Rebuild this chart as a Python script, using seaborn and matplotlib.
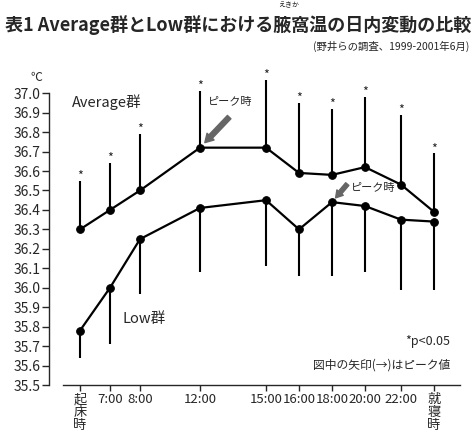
import pandas as pd
import numpy as np
import matplotlib.pyplot as plt
import seaborn as sns

sns.set_style("ticks")
plt.rcParams['font.family'] = ['Noto Sans CJK JP', 'DejaVu Sans']

# time points (x position follows the original's uneven spacing)
labels = ["起\n床\n時", "7:00", "8:00", "12:00", "15:00", "16:00", "18:00", "20:00", "22:00", "就\n寝\n時"]
x_pos = [0, 1, 2, 4, 6.2, 7.3, 8.4, 9.5, 10.7, 11.8]

avg_vals = [36.30, 36.40, 36.50, 36.72, 36.72, 36.59, 36.58, 36.62, 36.53, 36.39]
avg_upper = [36.55, 36.64, 36.79, 37.01, 37.07, 36.95, 36.92, 36.98, 36.89, 36.69]

low_vals = [35.78, 36.00, 36.25, 36.41, 36.45, 36.30, 36.44, 36.42, 36.35, 36.34]
low_lower = [35.64, 35.71, 35.97, 36.08, 36.11, 36.06, 36.06, 36.08, 35.99, 35.99]

avg_peak = 3   # 12:00
low_peak = 6   # 18:00

df = pd.DataFrame({
    "x": x_pos * 2,
    "temp": avg_vals + low_vals,
    "group": ["Average"] * len(x_pos) + ["Low"] * len(x_pos),
})

fig = plt.figure(figsize=(4.76, 4.38), dpi=100)
ax = fig.add_axes([0.1324, 0.121, 0.834, 0.708])

##error bars (one side only)
ax.vlines(x_pos, avg_vals, avg_upper, color="black", lw=1.5, zorder=2)
ax.vlines(x_pos, low_lower, low_vals, color="black", lw=1.5, zorder=2)
for xi, yi in zip(x_pos, avg_upper):
    ax.annotate("*", (xi, yi), xytext=(0, -1.5), textcoords="offset points",
                ha="center", va="bottom", fontsize=9, annotation_clip=False)

##lines
sns.lineplot(data=df, x="x", y="temp", hue="group", palette=["black", "black"],
             marker="o", markersize=5.5, markeredgecolor="black", lw=1.6,
             legend=False, ax=ax, zorder=3)

ax.set_xlim(-0.567, 12.667)
ax.set_ylim(35.5, 37.094)
ax.set_xticks(x_pos)
ax.set_xticklabels(labels, fontsize=9.5, linespacing=1.0)
ax.set_yticks(np.arange(35.5, 37.01, 0.1))
ax.set_yticklabels([f"{v:.1f}" for v in np.arange(35.5, 37.01, 0.1)], fontsize=10.5)
ax.tick_params(axis="y", length=5, width=1, pad=1)
ax.tick_params(axis="x", length=4, width=1, pad=2)
ax.set_xlabel("")
ax.set_ylabel("")

for s in ["top", "right"]:
    ax.spines[s].set_visible(False)
ax.spines["left"].set_position(("outward", 10))
ax.spines["left"].set_bounds(35.5, 37.0)
ax.spines["left"].set_linewidth(1)
ax.spines["bottom"].set_linewidth(1)

##group labels
ax.text(0.023, 0.913, "Average群", transform=ax.transAxes, fontsize=10.5, va="center")
ax.text(0.149, 0.213, "Low群", transform=ax.transAxes, fontsize=10.5, va="center")

##peak arrows
ax.annotate("", xy=(x_pos[avg_peak], avg_vals[avg_peak]), xytext=(21, 22),
            textcoords="offset points",
            arrowprops=dict(arrowstyle="simple,head_length=0.6,head_width=0.7,tail_width=0.35",
                            color="#666666", shrinkA=0, shrinkB=5))
ax.annotate("ピーク時", (x_pos[avg_peak], avg_vals[avg_peak]), xytext=(22, 33),
            textcoords="offset points", ha="center", va="center", fontsize=8)
ax.annotate("", xy=(x_pos[low_peak], low_vals[low_peak]), xytext=(11, 13),
            textcoords="offset points",
            arrowprops=dict(arrowstyle="simple,head_length=0.5,head_width=0.6,tail_width=0.3",
                            color="#666666", shrinkA=0, shrinkB=4))
ax.annotate("ピーク時", (x_pos[low_peak], low_vals[low_peak]), xytext=(30, 10),
            textcoords="offset points", ha="center", va="center", fontsize=8)

##notes
ax.text(0.975, 0.139, "*p<0.05", transform=ax.transAxes, fontsize=9, ha="right", va="center")
ax.text(0.975, 0.065, "図中の矢印(→)はピーク値", transform=ax.transAxes, fontsize=8.5,
        ha="right", va="center")

##titles
fig.text(0.077, 0.824, "℃", fontsize=8.5, ha="center", va="center")
fig.text(0.01, 0.943, "表1 Average群とLow群における腋窩温の日内変動の比較",
         fontsize=13, fontweight="bold", ha="left", va="center")
fig.text(0.607, 0.988, "えきか", fontsize=5, ha="center", va="center")
fig.text(0.987, 0.893, "(野井らの調査、1999-2001年6月)", fontsize=7.5, ha="right", va="center")

fig.savefig("out.png", dpi=100)
